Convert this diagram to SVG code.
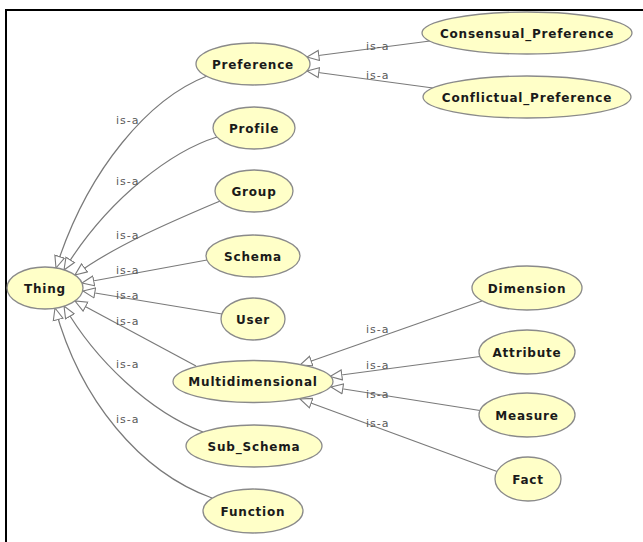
<svg xmlns="http://www.w3.org/2000/svg" width="643" height="542" viewBox="0 0 643 542">
<style>
.node ellipse{fill:#FFFFC8;stroke:#8a8a8a;stroke-width:1.3}
.node text{font-family:"DejaVu Sans",sans-serif;font-weight:bold;font-size:12px;letter-spacing:0.8px;fill:#1a1a1a;text-anchor:middle}
.edge{fill:none;stroke:#7a7a7a;stroke-width:1.2;marker-end:url(#tri)}
.lbl{font-family:"DejaVu Sans",sans-serif;font-size:11px;letter-spacing:1px;fill:#5a5a5a}
</style>
<defs>
<marker id="tri" viewBox="0 0 13 12" refX="12.5" refY="6" markerWidth="13" markerHeight="12" markerUnits="userSpaceOnUse" orient="auto">
<path d="M0.6,1 L12.5,6 L0.6,11 Z" fill="#fff" stroke="#7a7a7a" stroke-width="1.1"/>
</marker>
</defs>
<rect x="0" y="0" width="643" height="542" fill="#fff"/>
<path d="M6,542 V10 H643" fill="none" stroke="#000" stroke-width="2"/>
<g id="connectors">
<path class="edge" d="M207,76 C150,98 88,168 56,268"/>
<path class="edge" d="M217,137 C175,150 110,195 64,270"/>
<path class="edge" d="M220,201 C180,218 115,245 75,275"/>
<path class="edge" d="M207,260 L82,283"/>
<path class="edge" d="M222,314 L83,291"/>
<path class="edge" d="M196,366 L75,301"/>
<path class="edge" d="M203,432 C150,412 95,360 64,306"/>
<path class="edge" d="M212,498 C140,472 80,400 55,308"/>
<path class="edge" d="M430,41 L307,57"/>
<path class="edge" d="M433,88 L307,71"/>
<path class="edge" d="M482,301 L300,365"/>
<path class="edge" d="M480,356.5 L330,376.5"/>
<path class="edge" d="M480,410.5 L331,387"/>
<path class="edge" d="M497,471.5 L300,399"/>
<text class="lbl" x="116" y="124">is-a</text>
<text class="lbl" x="116" y="185">is-a</text>
<text class="lbl" x="116" y="239">is-a</text>
<text class="lbl" x="116" y="274">is-a</text>
<text class="lbl" x="116" y="299">is-a</text>
<text class="lbl" x="116" y="325">is-a</text>
<text class="lbl" x="116" y="368">is-a</text>
<text class="lbl" x="116" y="423">is-a</text>
<text class="lbl" x="366" y="50">is-a</text>
<text class="lbl" x="366" y="79">is-a</text>
<text class="lbl" x="366" y="333">is-a</text>
<text class="lbl" x="366" y="369">is-a</text>
<text class="lbl" x="366" y="398">is-a</text>
<text class="lbl" x="366" y="427">is-a</text>
</g>
<g id="Thing" class="node"><ellipse cx="45" cy="288" rx="38" ry="21"/><text x="45" y="292.5">Thing</text></g>
<g id="Preference" class="node"><ellipse cx="253" cy="64" rx="57" ry="21"/><text x="253" y="68.5">Preference</text></g>
<g id="Profile" class="node"><ellipse cx="254" cy="128" rx="41" ry="21"/><text x="254" y="132.5">Profile</text></g>
<g id="Group" class="node"><ellipse cx="254" cy="191" rx="39" ry="21"/><text x="254" y="195.5">Group</text></g>
<g id="Schema" class="node"><ellipse cx="253" cy="256" rx="47" ry="21"/><text x="253" y="260.5">Schema</text></g>
<g id="User" class="node"><ellipse cx="253" cy="319" rx="32" ry="21"/><text x="253" y="323.5">User</text></g>
<g id="Multidimensional" class="node"><ellipse cx="253" cy="381.5" rx="80" ry="21"/><text x="253" y="386">Multidimensional</text></g>
<g id="Sub_Schema" class="node"><ellipse cx="254" cy="446" rx="68" ry="21"/><text x="254" y="450.5">Sub_Schema</text></g>
<g id="Function" class="node"><ellipse cx="253" cy="511" rx="50" ry="22"/><text x="253" y="515.5">Function</text></g>
<g id="Consensual_Preference" class="node"><ellipse cx="527" cy="33" rx="105" ry="21"/><text x="527" y="37.5">Consensual_Preference</text></g>
<g id="Conflictual_Preference" class="node"><ellipse cx="527" cy="97" rx="104" ry="21"/><text x="527" y="101.5">Conflictual_Preference</text></g>
<g id="Dimension" class="node"><ellipse cx="527" cy="288" rx="55" ry="22"/><text x="527" y="292.5">Dimension</text></g>
<g id="Attribute" class="node"><ellipse cx="527" cy="352" rx="48" ry="22"/><text x="527" y="356.5">Attribute</text></g>
<g id="Measure" class="node"><ellipse cx="527" cy="415" rx="48" ry="22"/><text x="527" y="419.5">Measure</text></g>
<g id="Fact" class="node"><ellipse cx="528" cy="479" rx="33" ry="22"/><text x="528" y="483.5">Fact</text></g>
</svg>
